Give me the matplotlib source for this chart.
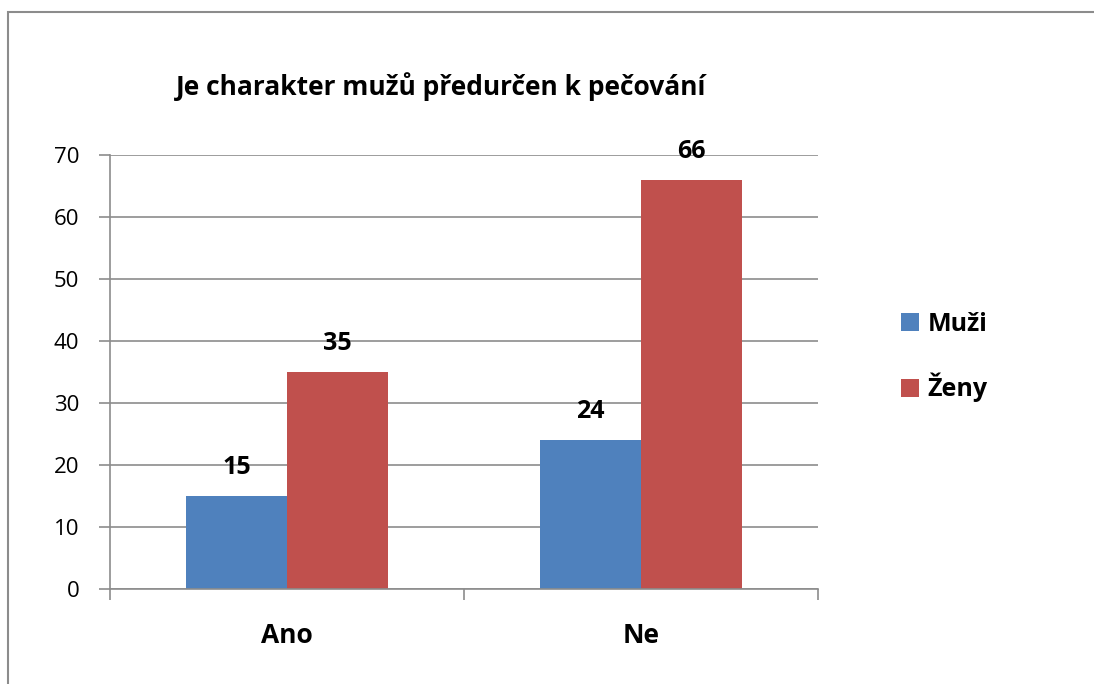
import numpy as np
import matplotlib.pyplot as plt
from matplotlib.patches import Rectangle

categories = ['Ano', 'Ne']
muzi = [15, 24]
zeny = [35, 66]
series_names = ['Muži', 'Ženy']
title = 'Je charakter mužů předurčen k pečování'

plt.rcParams['font.family'] = ['Open Sans', 'DejaVu Sans']

fig = plt.figure(figsize=(10.94, 6.84), dpi=100)
fig.patches.append(Rectangle((8 / 1094, -0.1), 1.2, 1 - 12 / 684 + 0.1,
                             transform=fig.transFigure, fill=False,
                             edgecolor='#8c8c8c', linewidth=1.5))

ax = fig.add_axes([110 / 1094, 1 - 589 / 684, (818 - 110) / 1094, (589 - 155) / 684])

x = np.arange(len(categories))
w = 0.285
b1 = ax.bar(x - w / 2, muzi, w, color='#4F81BD', label=series_names[0])
b2 = ax.bar(x + w / 2, zeny, w, color='#C0504D', label=series_names[1])
for bars in (b1, b2):
    for r in bars:
        ax.text(r.get_x() + r.get_width() / 2, r.get_height() + 3.5, str(int(r.get_height())),
                ha='center', va='baseline', fontsize=18, fontweight='bold')

ax.set_xlim(-0.5, 1.5)
ax.set_ylim(0, 70)
ax.set_yticks(range(0, 71, 10))
ax.yaxis.grid(True, color='#8c8c8c', linewidth=1.2)
ax.set_axisbelow(True)
ax.set_xticks([-0.5, 0.5, 1.5])
ax.set_xticklabels([])
ax.set_xticks(x, minor=True)
ax.set_xticklabels(categories, minor=True, fontsize=19, fontweight='bold')
ax.tick_params(axis='x', which='minor', length=0, pad=24)
ax.tick_params(axis='x', which='major', length=8, color='#8c8c8c', width=1.2)
ax.tick_params(axis='y', length=8, color='#8c8c8c', width=1.2, labelsize=16, pad=14)
for s in ['top', 'right']:
    ax.spines[s].set_visible(False)
for s in ['left', 'bottom']:
    ax.spines[s].set_color('#8c8c8c')
    ax.spines[s].set_linewidth(1.2)

fig.text(441 / 1094, 1 - 95 / 684, title, ha='center', va='baseline', fontsize=19, fontweight='bold')

fig.legend(handles=[b1, b2], loc='center left', bbox_to_anchor=(878 / 1094, 1 - 357 / 684),
           frameon=False, prop={'size': 18, 'weight': 'bold'}, handlelength=0.72,
           handleheight=0.72, handletextpad=0.36, labelspacing=1.45)

fig.savefig('out.png', dpi=100)
